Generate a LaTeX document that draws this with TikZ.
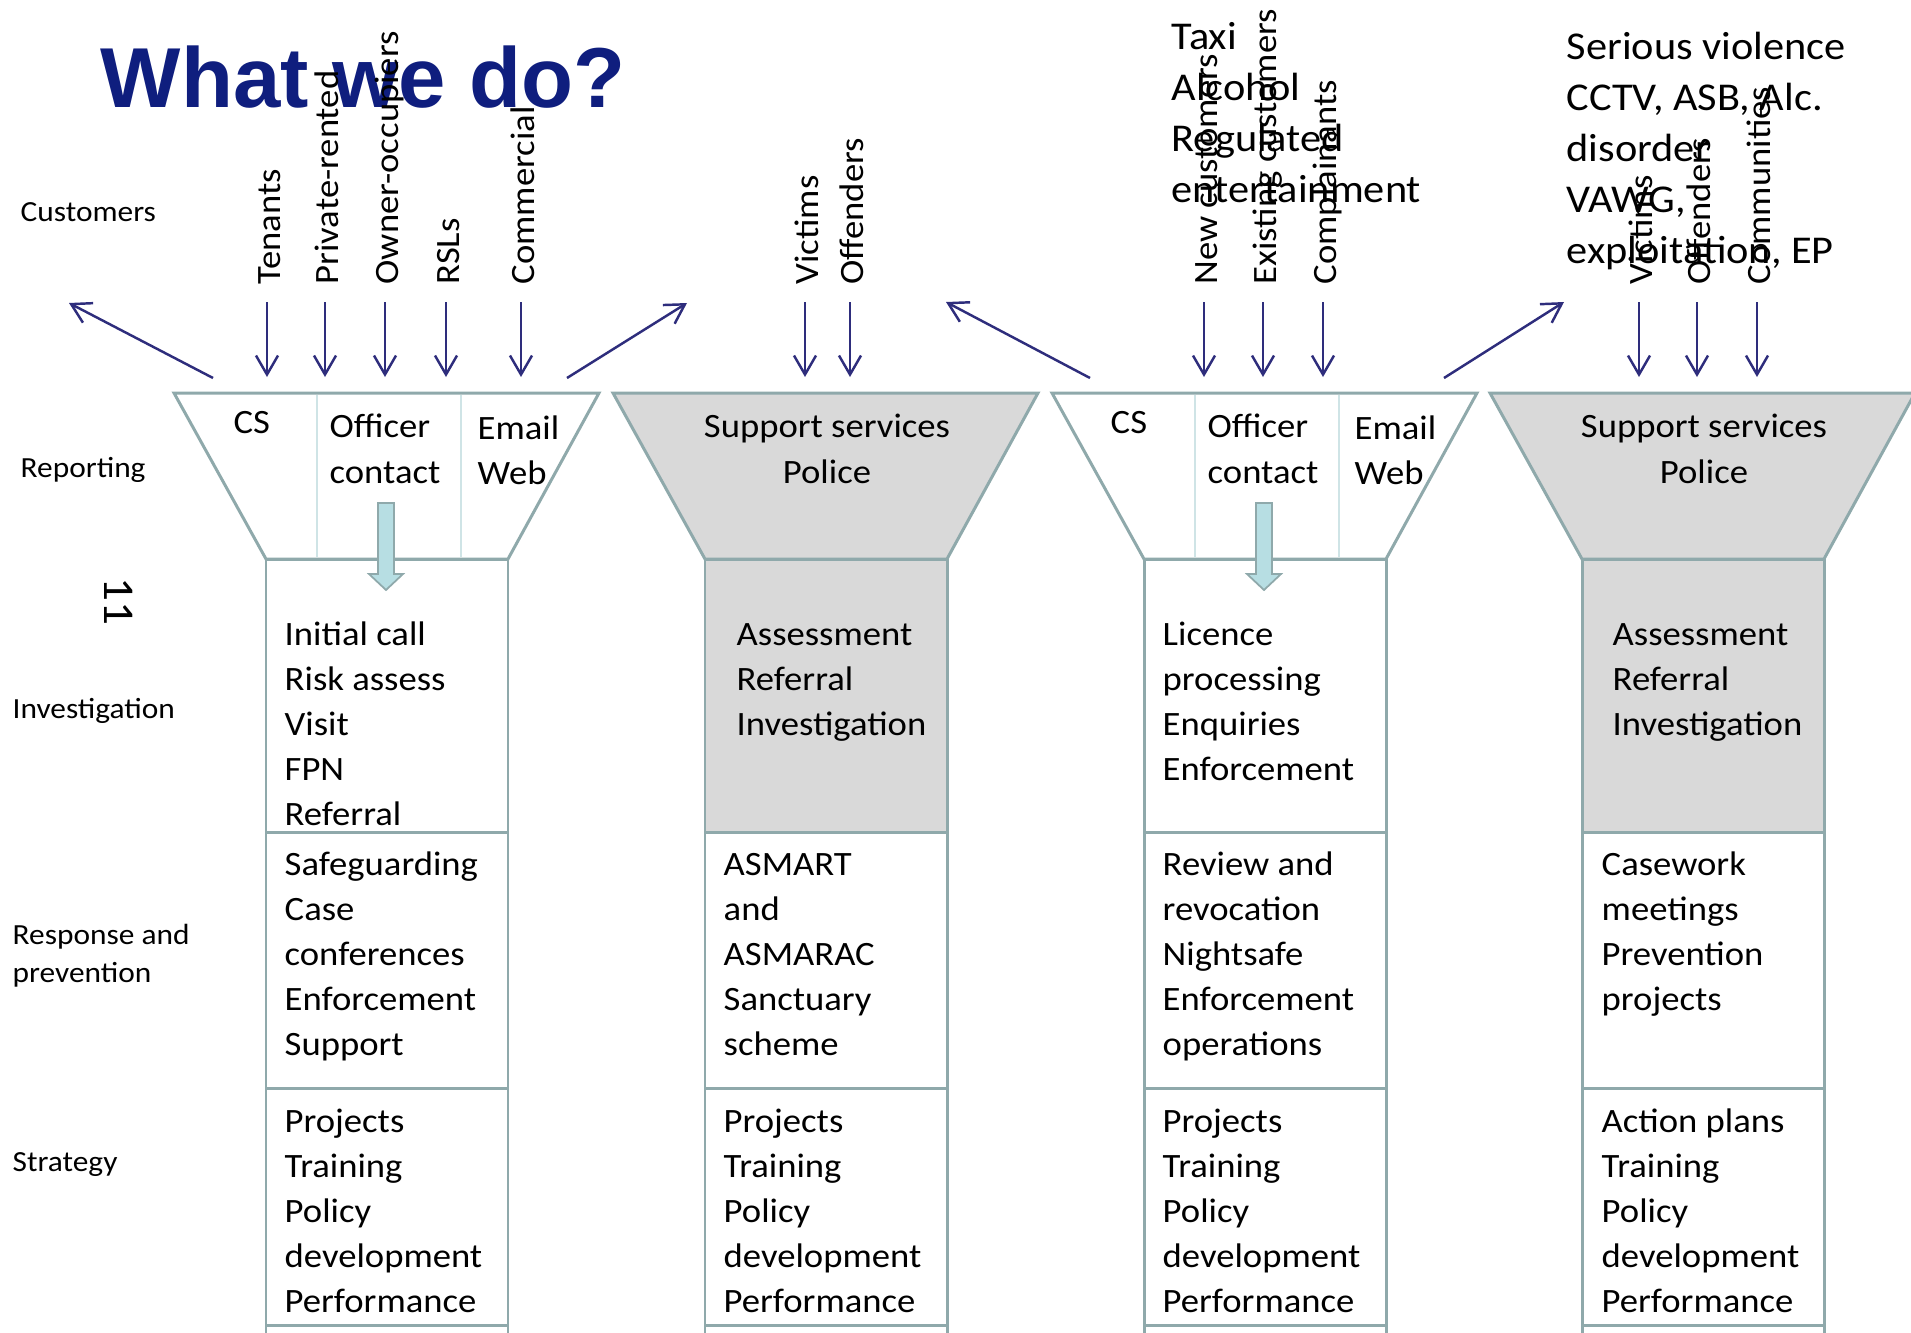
\documentclass[tikz,border=0pt]{standalone}
\usepackage{fontspec}
\setmainfont{Carlito}[FakeStretch=1.075]
\newfontfamily\headfont{Liberation Sans}
\usetikzlibrary{arrows.meta,positioning}

\definecolor{edge}{HTML}{8FA9AB}
\definecolor{navy}{HTML}{2E2D7C}
\definecolor{greyfill}{HTML}{D9D9D9}
\definecolor{pipefill}{HTML}{B7DEE3}
\definecolor{divline}{HTML}{CFE4E6}
\definecolor{titleblue}{HTML}{0F1E7E}

% fixed first-line height for text blocks
\newcommand{\fl}{\rule{0pt}{0.8em}}

\begin{document}
\begin{tikzpicture}[
    x=0.01cm, y=-0.01cm,
    funnel/.style={draw=edge, line width=0.85pt},
    shaded/.style={funnel, fill=greyfill},
    divider/.style={draw=divline, line width=0.4pt},
    pipe/.style={draw=edge, fill=pipefill, line width=0.5pt},
    feed/.style={-{Straight Barb[length=0.19cm,width=0.22cm]}, draw=navy, line width=0.7pt},
    body/.style={inner sep=0pt, anchor=north west, align=left, font=\fontsize{9.7pt}{12.85pt}\selectfont},
    mid/.style={body, anchor=north, align=center},
    side/.style={inner sep=0pt, anchor=base west, font=\fontsize{8.3pt}{11pt}\selectfont},
    who/.style={inner sep=0pt, anchor=base west, rotate=90, font=\fontsize{9.7pt}{12.6pt}\selectfont},
    topic/.style={inner sep=0pt, anchor=north west, align=left, font=\fontsize{11.2pt}{14.5pt}\selectfont},
  ]
  \useasboundingbox (0,0) rectangle (1911,1333);

  % funnels and columns
  \foreach \i/\x/\sty in {1/266/funnel, 2/705/shaded, 3/1144/funnel, 4/1582/shaded} {
    \coordinate (col\i) at (\x,559);
    \draw[\sty] ({\x-92},393) -- ({\x+333},393) -- ({\x+242},559) -- (\x,559) -- cycle;
    \draw[\sty] (\x,559) rectangle ({\x+242},832);
    \draw[funnel] (\x,832) rectangle ({\x+242},1088);
    \draw[funnel] (\x,1088) rectangle ({\x+242},1325);
    \draw[funnel] (\x,1325) -- (\x,1345);
    \draw[funnel] ({\x+242},1325) -- ({\x+242},1345);
  }
  \foreach \x in {266, 1144} {
    \draw[divider] ({\x+51},395) -- ({\x+51},557);
    \draw[divider] ({\x+195},395) -- ({\x+195},557);
    \draw[pipe] ({\x+112},503) -- ({\x+128},503) -- ({\x+128},574) -- ({\x+137},574)
      -- ({\x+120},590) -- ({\x+103},574) -- ({\x+112},574) -- cycle;
  }

  % title and row labels
  \node[inner sep=0pt, anchor=base west, text=titleblue,
        font=\headfont\bfseries\fontsize{24.2pt}{28pt}\selectfont] (title) at (100,107) {What we do?};
  \node[side] (customers) at (20,221) {Customers};
  \node[side] (reporting) at (20,477) {Reporting};
  \node[side] (investigation) at (12,718) {Investigation};
  \node[side, anchor=north west, align=left] (response) at (12,920) {\fl Response and\\prevention};
  \node[side] (strategy) at (12,1171) {Strategy};
  \node[inner sep=0pt, rotate=-90, font=\fontsize{12.5pt}{14pt}\selectfont] (pageno) at (119,601) {11};

  % customer groups
  \foreach \n/\x/\t in {ten/267/Tenants, prv/325/Private-rented, own/385/Owner-occupiers,
      rsl/446/RSLs, com/521/Commercial, vic/805/Victims, off/850/Offenders,
      new/1204/New customers, ext/1263/Existing customers, cmp/1323/Complainants,
      vicb/1639/Victims, offb/1697/Offenders, cty/1757/Communities} {
    \node[who] (\n) at ({\x+13},285) {\t};
    \coordinate (\n-s) at (\x,302);
    \coordinate (\n-e) at (\x,377);
    \draw[feed] (\n-s) -- (\n-e);
  }
  \node[topic] (licensing) at (1171,17) {\fl Taxi\\Alcohol\\Regulated\\entertainment};
  \node[topic] (safety) at (1566,27) {\fl Serious violence\\CCTV, ASB, Alc.\\disorder\\VAWG,\\exploitation, EP};

  % links between funnels
  \coordinate (l1-s) at (213,378);  \coordinate (l1-e) at (69,303);
  \coordinate (l2-s) at (567,378);  \coordinate (l2-e) at (687,303);
  \coordinate (l3-s) at (1090,378); \coordinate (l3-e) at (946,302);
  \coordinate (l4-s) at (1444,378); \coordinate (l4-e) at (1564,302);
  \foreach \k in {1,...,4}
    \draw[feed] (l\k-s) -- (l\k-e);

  % reporting
  \node[body] (cs1) at (233,405) {\fl CS};
  \node[body] (oc1) at (329,410) {\fl Officer\\contact};
  \node[body] (ew1) at (477,411) {\fl Email\\Web};
  \node[mid] (sp2) at (827,410) {\fl Support services\\Police};
  \node[body] (cs3) at (1110,405) {\fl CS};
  \node[body] (oc3) at (1207,410) {\fl Officer\\contact};
  \node[body] (ew3) at (1354,411) {\fl Email\\Web};
  \node[mid] (sp4) at (1704,410) {\fl Support services\\Police};

  % investigation
  \node[body] (inv1) at (284,617) {\fl Initial call\\Risk assess\\Visit\\FPN\\Referral};
  \node[body] (inv2) at (736,617) {\fl Assessment\\Referral\\Investigation};
  \node[body] (inv3) at (1162,617) {\fl Licence\\processing\\Enquiries\\Enforcement};
  \node[body] (inv4) at (1612,617) {\fl Assessment\\Referral\\Investigation};

  % response and prevention
  \node[body] (rsp1) at (284,847) {\fl Safeguarding\\Case\\conferences\\Enforcement\\Support};
  \node[body] (rsp2) at (723,847) {\fl ASMART\\and\\ASMARAC\\Sanctuary\\scheme};
  \node[body] (rsp3) at (1162,847) {\fl Review and\\revocation\\Nightsafe\\Enforcement\\operations};
  \node[body] (rsp4) at (1601,847) {\fl Casework\\meetings\\Prevention\\projects};

  % strategy
  \node[body] (str1) at (284,1104) {\fl Projects\\Training\\Policy\\development\\Performance};
  \node[body] (str2) at (723,1104) {\fl Projects\\Training\\Policy\\development\\Performance};
  \node[body] (str3) at (1162,1104) {\fl Projects\\Training\\Policy\\development\\Performance};
  \node[body] (str4) at (1601,1104) {\fl Action plans\\Training\\Policy\\development\\Performance};
\end{tikzpicture}
\end{document}
